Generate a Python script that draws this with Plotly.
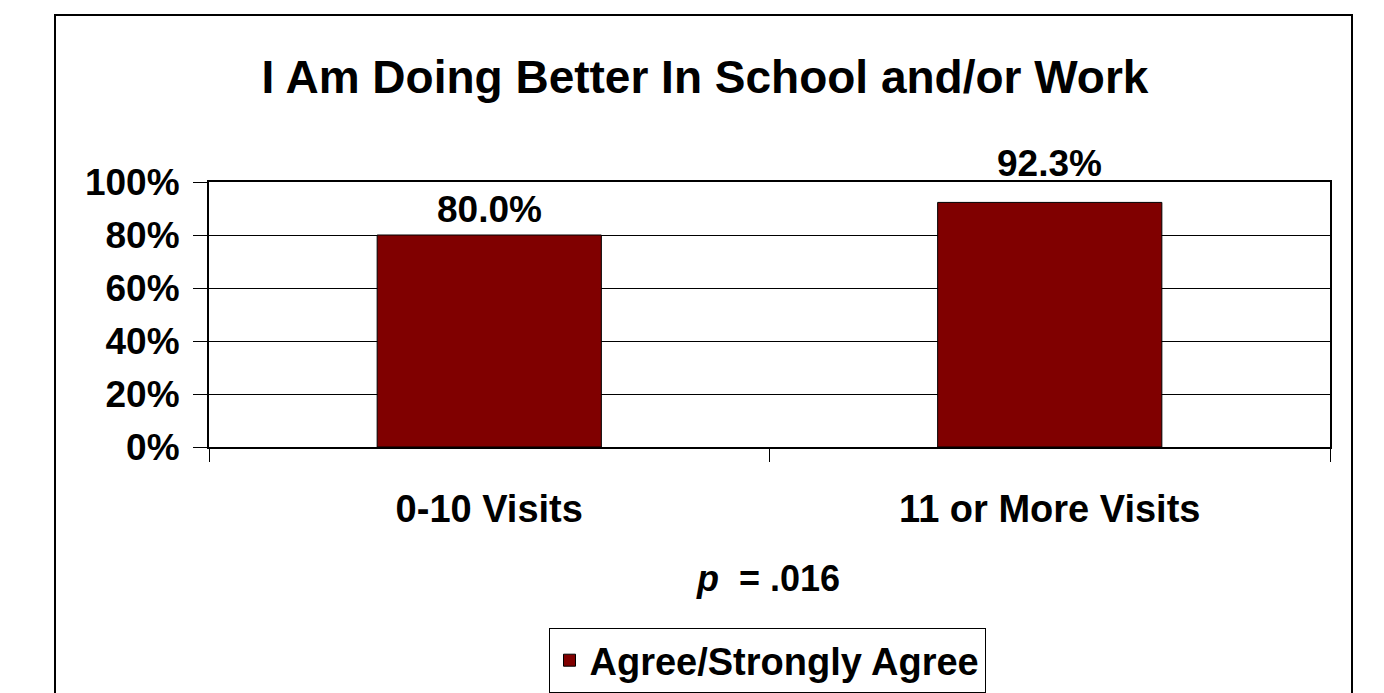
import plotly.graph_objects as go

categories = ["0-10 Visits", "11 or More Visits"]
values = [80.0, 92.3]
label_texts = ["80.0%", "92.3%"]
series_name = "Agree/Strongly Agree"
title_text = "I Am Doing Better In School and/or Work"
note_text = "<i>p</i>&nbsp; = .016"
tick_vals = [0, 20, 40, 60, 80, 100]
tick_text = ["0%", "20%", "40%", "60%", "80%", "100%"]

FONT = "Liberation Sans, Arial, sans-serif"
W, H = 1384, 693
L, R, T, B = 209, 54, 182, 246
pw, ph = W - L - R, H - T - B


def px_x(x):
    return (x - L) / pw


def px_y(y):
    return (H - B - y) / ph


fig = go.Figure()
fig.add_trace(go.Bar(
    x=categories, y=values, name=f"<b>{series_name}</b>", width=0.4,
    marker=dict(color="#800000", line=dict(color="black", width=1)),
    showlegend=True,
))

label_shifts = [3, 16]
for c, v, t, s in zip(categories, values, label_texts, label_shifts):
    fig.add_annotation(x=c, y=v, text=f"<b>{t}</b>", showarrow=False,
                       yanchor="bottom", yshift=s,
                       font=dict(family=FONT, size=37, color="black"))

fig.add_annotation(xref="paper", yref="paper", x=px_x(768), y=px_y(578),
                   text=f"<b>{note_text}</b>", showarrow=False,
                   xanchor="center", yanchor="middle",
                   font=dict(family=FONT, size=36, color="black"))

fig.add_shape(type="rect", xref="paper", yref="paper",
              x0=px_x(55), x1=px_x(1352), y0=px_y(15), y1=px_y(720),
              line=dict(color="black", width=2), fillcolor="rgba(0,0,0,0)")

fig.update_layout(
    width=W, height=H,
    margin=dict(l=L, r=R, t=T, b=B, pad=0, autoexpand=False),
    paper_bgcolor="white", plot_bgcolor="white",
    font=dict(family=FONT, size=36, color="black"),
    title=dict(text=f"<b>{title_text}</b>", xref="paper", x=px_x(705),
               xanchor="center", yref="container", y=1 - 77 / H,
               yanchor="middle", font=dict(family=FONT, size=46, color="black")),
    legend=dict(orientation="h", xref="paper", yref="paper",
                x=px_x(767), y=px_y(628), xanchor="center", yanchor="top",
                bordercolor="black", borderwidth=1, bgcolor="white",
                font=dict(family=FONT, size=38, color="black")),
    showlegend=True,
    bargap=0.6,
)

fig.update_xaxes(type="category", showline=True, linecolor="black", linewidth=2,
                 mirror=True, ticks="outside", tickson="boundaries", ticklen=13,
                 tickcolor="black", tickwidth=1, showgrid=False,
                 tickfont=dict(family=FONT, size=38, color="black"),
                 ticklabelstandoff=27)
fig.update_xaxes(tickprefix="<b>", ticksuffix="</b>")
fig.update_yaxes(range=[0, 100], tickvals=tick_vals, ticktext=[f"<b>{t}</b>" for t in tick_text],
                 showline=True, linecolor="black", linewidth=2, mirror=True,
                 ticks="outside", ticklen=14, tickcolor="black", tickwidth=1,
                 showgrid=True, gridcolor="black", gridwidth=1, zeroline=False,
                 tickfont=dict(family=FONT, size=37, color="black"),
                 ticklabelstandoff=6)

fig.write_html("out.html")
